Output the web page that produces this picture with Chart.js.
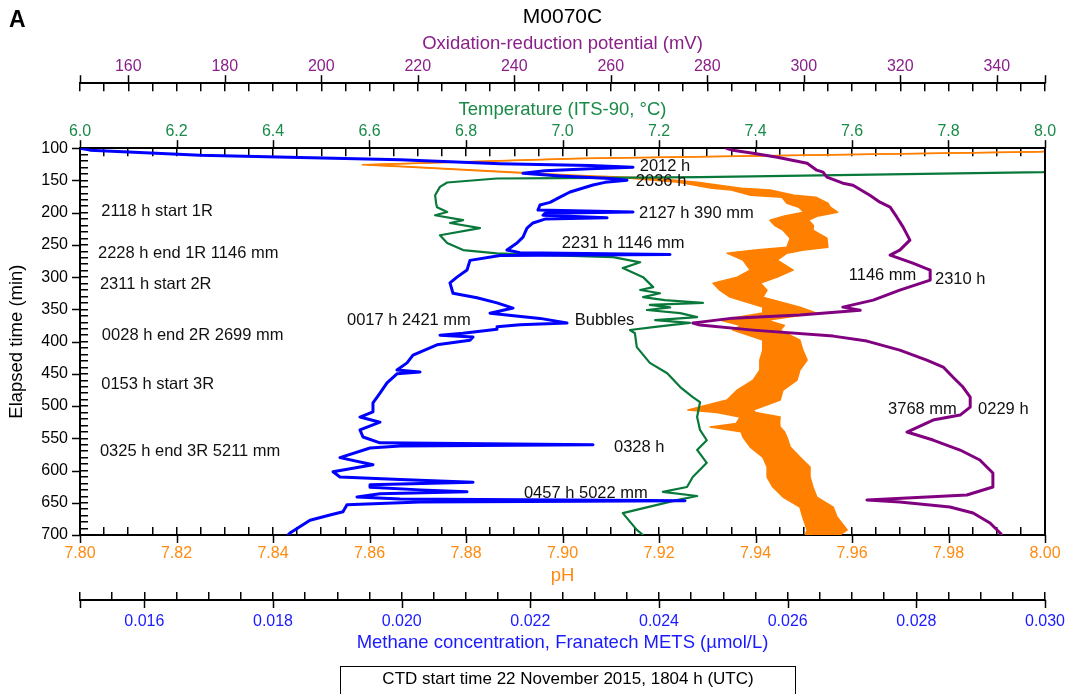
<!DOCTYPE html>
<html><head><meta charset="utf-8">
<script src="https://cdn.jsdelivr.net/npm/chart.js@4/dist/chart.umd.min.js"></script>
<style>html,body{margin:0;padding:0;background:#fff;}#wrap{width:1070px;height:694px;}</style>
</head><body><div id="wrap"><canvas id="c" width="1070" height="694"></canvas></div>
<script>
// ---------- tick labels ----------
const timeTicks = [100,150,200,250,300,350,400,450,500,550,600,650,700];
const orpTicks  = [160,180,200,220,240,260,280,300,320,340];
const tempTicks = [6.0,6.2,6.4,6.6,6.8,7.0,7.2,7.4,7.6,7.8,8.0];
const phTicks   = [7.80,7.82,7.84,7.86,7.88,7.90,7.92,7.94,7.96,7.98,8.00];
const ch4Ticks  = [0.016,0.018,0.020,0.022,0.024,0.026,0.028,0.030];

// ---------- methane (µmol/L) vs elapsed time (min) ----------
const ch4Time  = [100,103,111,118,124,127,129.5,132,135,139,143,147,149.6,153,157,168,176,184,188,196,199,201,204,208,210,216,224,238,247,258,262,264.8,266.5,274,289,300,309,325,332,340,348,356,364,371,374,377,381,387,390,393,398,405,421,433,444,447,450,464,480,495,509,517,525,537,548,557,560,562,565,580,591,602,610,614,618,622,626,630,633,636,641,644,647,649,653,664,669,677,697,700];
const ch4Value = [0.015000,0.015155,0.016865,0.019974,0.021528,0.022927,0.023596,0.022927,0.022228,0.021886,0.022461,0.023238,0.023503,0.023161,0.022974,0.022617,0.022461,0.022306,0.022150,0.022119,0.023596,0.022228,0.022197,0.023192,0.022228,0.022041,0.021948,0.021886,0.021793,0.021637,0.021839,0.024171,0.021528,0.021062,0.021016,0.020860,0.020751,0.020798,0.021171,0.021482,0.021731,0.021373,0.022150,0.022570,0.021839,0.021482,0.021482,0.020953,0.020596,0.021109,0.021062,0.020549,0.020176,0.020083,0.019927,0.020285,0.019927,0.019772,0.019663,0.019554,0.019554,0.019352,0.019663,0.019352,0.019399,0.019663,0.022974,0.019974,0.019508,0.019041,0.019554,0.018933,0.019041,0.019974,0.021109,0.019508,0.019508,0.020285,0.021016,0.019663,0.019306,0.019974,0.024404,0.020285,0.019150,0.019088,0.018886,0.018575,0.018264,0.018233];

// ---------- temperature (°C) ----------
const tempTime  = [133,137.2,145,146.5,147,153.2,160,172.9,185.3,191.5,199,204,211.6,216,224,235,247,258,263,266,269,277,286,300,315.5,320,325,331,335.7,340,343,347,351,355.8,362,366.7,371,377.5,382,387,408.5,433,449,470.5,486,494,517,537,553,568,588,610,625.5,633,639.5,646,666,692,700];
const tempValue = [8.05,7.996,7.285,6.995,6.864,6.761,6.746,6.736,6.738,6.740,6.761,6.736,6.794,6.767,6.829,6.746,6.761,6.794,6.864,6.968,7.105,7.161,7.125,7.167,7.188,7.161,7.202,7.167,7.212,7.291,7.181,7.223,7.175,7.244,7.279,7.192,7.264,7.188,7.140,7.150,7.154,7.181,7.217,7.244,7.270,7.285,7.279,7.285,7.299,7.279,7.299,7.270,7.258,7.208,7.279,7.237,7.125,7.154,7.167];

// ---------- pH (noisy band: low / high edge) ----------
const phTime = [100,104,105.7,116,125.6,129,141.9,146.5,152.7,162,165,172.9,176,185.3,191.5,199.2,205,211.6,220,227.1,239.5,253.5,258,262.8,273.6,289.1,300,309.3,320.2,331,346.5,355.8,366.7,375,382.2,397.7,413.2,428.7,444.2,459.7,475.2,490.7,506.2,510,517,527,532.6,540,548.1,563.6,579.1,594.6,610.1,625.6,641.1,656.6,672.1,692.2,700];
const phLow  = [8.020,8.001,7.9985,7.9025,7.8585,7.8680,7.9000,7.9140,7.9240,7.9310,7.9350,7.9390,7.9455,7.9465,7.9490,7.9500,7.9460,7.9430,7.9440,7.9457,7.9472,7.9465,7.9400,7.9341,7.9374,7.9389,7.9362,7.9312,7.9326,7.9347,7.9415,7.9415,7.9326,7.9370,7.9353,7.9415,7.9415,7.9409,7.9409,7.9395,7.9362,7.9341,7.9260,7.9320,7.9368,7.9360,7.9306,7.9370,7.9374,7.9389,7.9415,7.9424,7.9424,7.9436,7.9457,7.9492,7.9498,7.9507,7.9503];
const phHigh = [8.030,8.006,8.0000,7.9040,7.8600,7.8695,7.9025,7.9190,7.9280,7.9370,7.9430,7.9480,7.9525,7.9550,7.9555,7.9570,7.9530,7.9510,7.9520,7.9519,7.9548,7.9550,7.9500,7.9465,7.9445,7.9478,7.9445,7.9410,7.9424,7.9415,7.9492,7.9527,7.9424,7.9460,7.9451,7.9492,7.9498,7.9507,7.9492,7.9486,7.9457,7.9451,7.9395,7.9400,7.9451,7.9450,7.9451,7.9460,7.9465,7.9472,7.9492,7.9513,7.9513,7.9519,7.9527,7.9561,7.9569,7.9590,7.9575];

// ---------- oxidation-reduction potential (mV) ----------
const orpTime  = [100,103.1,107.8,114,123.3,134.1,137.2,145,154.3,157.4,172.9,183.7,191.5,207,222.5,242.6,258.1,265.9,278.3,289.1,304.6,320.2,335.7,346.5,351.2,358.9,363.6,369.8,371.3,374.4,382.2,391.5,399.2,413.2,428.7,439.5,455,470.5,486,501.6,514,521.7,540.3,552.7,568.2,583.7,603.9,625.6,638,642.6,645.7,648.8,656.6,665.9,681.4,696.9,700];
const orpValue = [284.0,285.3,289.5,294.5,300.7,302.7,304.0,304.8,308.1,310.2,313.7,315.8,317.9,319.3,320.6,322.0,319.9,317.9,322.6,326.2,326.2,319.9,314.4,308.1,311.7,299.2,285.3,278.5,277.0,278.5,289.5,306.1,313.1,319.9,325.5,328.9,330.9,333.0,334.5,334.5,332.4,326.8,321.4,326.8,332.4,336.5,339.2,339.2,333.8,321.4,313.1,319.9,330.3,335.1,338.6,340.7,341.0];

// ---------- annotations (anchored on methane axis / time axis) ----------
const noteText = ['2012 h','2036 h','2127 h 390 mm','2231 h 1146 mm','0017 h 2421 mm','Bubbles','0328 h','0457 h 5022 mm','1146 mm','2310 h','3768 mm','0229 h','2118 h start 1R','2228 h end 1R 1146 mm','2311 h start 2R','0028 h end 2R 2699 mm','0153 h start 3R','0325 h end 3R 5211 mm'];
const noteCH4  = [0.02370,0.02364,0.02369,0.02249,0.01915,0.02269,0.02330,0.02190,0.02695,0.02829,0.02756,0.02896,0.01533,0.01528,0.01531,0.01534,0.01533,0.01531];
const noteTime = [127.9,151.2,200.8,247.3,366.7,366.7,563.6,634.9,296.9,303.1,504.7,504.7,197.7,262.8,310.9,389.9,465.9,569.8];

const FONT = '"Liberation Sans", Arial, Helvetica, sans-serif';
Chart.defaults.font.family = FONT;

const C_ORP = '#800080', C_ORP_T = '#8a1f8a';
const C_TMP = '#08793a', C_TMP_T = '#1a8a48';
const C_PH  = '#ff8000', C_PH_T = '#ff8a10';
const C_CH4 = '#0000ff', C_CH4_T = '#1a1aff';

const pts = (ts, vs) => ts.map((t, i) => ({x: vs[i], y: t}));

function tickCb(labels, digits, tol) {
  return function(v) {
    for (const l of labels) if (Math.abs(v - l) < tol) return l.toFixed(digits);
    return '';
  };
}
function xScale(o) {
  return {
    type: 'linear', position: o.pos, weight: o.weight, min: o.min, max: o.max,
    ticks: { stepSize: o.step, autoSkip: false, maxRotation: 0, minRotation: 0, color: o.color,
             font: { size: 16 }, padding: o.labelPad, callback: tickCb(o.labels, o.digits, o.step / 100) },
    grid: { drawOnChartArea: false, drawTicks: true, tickLength: -8, color: '#000', lineWidth: 1.5 },
    border: { display: true, color: '#000', width: 2 },
    title: { display: true, text: o.title, color: o.color, font: { size: 18.5 }, padding: o.titlePad },
    afterFit(s) { s.height = o.height; s.paddingLeft = 0; s.paddingRight = 0; }
  };
}

const decor = {
  id: 'decor',
  afterDatasetsDraw(chart) {
    const ctx = chart.ctx, sx = chart.scales.xCH4, sy = chart.scales.y;
    ctx.save();
    ctx.fillStyle = '#111';
    ctx.font = '16.5px ' + FONT;
    ctx.textAlign = 'left';
    ctx.textBaseline = 'middle';
    noteText.forEach((t, i) => ctx.fillText(t, sx.getPixelForValue(noteCH4[i]), sy.getPixelForValue(noteTime[i])));
    ctx.restore();
  },
  afterDraw(chart) {
    const ctx = chart.ctx, ca = chart.chartArea;
    ctx.save();
    ctx.strokeStyle = '#000';
    ctx.lineWidth = 2;
    ctx.beginPath(); ctx.moveTo(ca.right, ca.top - 1); ctx.lineTo(ca.right, ca.bottom + 1); ctx.stroke();
    ctx.lineWidth = 1.5;
    for (const id of ['xORP', 'xT', 'xPH', 'xCH4', 'y']) {
      const s = chart.scales[id];
      const n = s.ticks.length;
      s.ticks.forEach((tk, i) => {
        if (tk.label === '' && i !== 0 && i !== n - 1) return;
        const p = Math.round(s.getPixelForTick(i)) + 0.5;
        ctx.beginPath();
        if (s.position === 'top') { ctx.moveTo(p, s.bottom); ctx.lineTo(p, s.bottom - 8); }
        else if (s.position === 'bottom') { ctx.moveTo(p, s.top); ctx.lineTo(p, s.top + 8); }
        else { ctx.moveTo(s.right, p); ctx.lineTo(s.right - 8, p); }
        ctx.stroke();
      });
    }
    // panel letter
    ctx.fillStyle = '#000';
    ctx.font = 'bold 23px ' + FONT;
    ctx.textAlign = 'left'; ctx.textBaseline = 'middle';
    ctx.fillText('A', 9, 21);
    // footer box
    ctx.lineWidth = 1;
    ctx.strokeRect(340.5, 666.5, 455, 40);
    ctx.font = '17px ' + FONT;
    ctx.textAlign = 'center';
    ctx.fillText('CTD start time 22 November 2015, 1804 h (UTC)', 568, 679);
    ctx.restore();
  }
};

const lineDs = (label, data, xId, color, width, extra) => Object.assign({
  label, data, xAxisID: xId, yAxisID: 'y', borderColor: color, backgroundColor: color,
  borderWidth: width, pointRadius: 0, tension: 0, fill: false, borderJoinStyle: 'round', borderCapStyle: 'round'
}, extra || {});

new Chart(document.getElementById('c'), {
  type: 'line',
  data: {
    datasets: [
      lineDs('Methane', pts(ch4Time, ch4Value), 'xCH4', C_CH4, 3),
      lineDs('ORP', pts(orpTime, orpValue), 'xORP', C_ORP, 3),
      lineDs('Temperature', pts(tempTime, tempValue), 'xT', C_TMP, 2.2),
      lineDs('pH high', pts(phTime, phHigh), 'xPH', C_PH, 1.5, { fill: '+1' }),
      lineDs('pH low', pts(phTime, phLow), 'xPH', C_PH, 1.5)
    ]
  },
  options: {
    indexAxis: 'y',
    responsive: false,
    animation: false,
    devicePixelRatio: 1,
    layout: { padding: { left: 0, right: 25, top: 0, bottom: 32 } },
    plugins: {
      legend: { display: false },
      tooltip: { enabled: false },
      title: { display: true, fullSize: false, text: 'M0070C', color: '#000', font: { size: 21, weight: 'normal' }, padding: { top: 5, bottom: 3 } }
    },
    scales: {
      xORP: xScale({ pos: 'top', weight: 2, min: 150, max: 350, step: 5, labels: orpTicks, digits: 0, color: C_ORP_T,
                     title: 'Oxidation-reduction potential (mV)', height: 50, labelPad: 15, titlePad: { top: 0, bottom: 0 } }),
      xT: xScale({ pos: 'top', weight: 1, min: 6, max: 8, step: 0.05, labels: tempTicks, digits: 1, color: C_TMP_T,
                   title: 'Temperature (ITS-90, °C)', height: 65, labelPad: 15, titlePad: { top: 15.7, bottom: 0 } }),
      xPH: xScale({ pos: 'bottom', weight: 1, min: 7.8, max: 8.0, step: 0.005, labels: phTicks, digits: 2, color: C_PH_T,
                    title: 'pH', height: 65, labelPad: 17, titlePad: { top: 0, bottom: 13 } }),
      xCH4: xScale({ pos: 'bottom', weight: 2, min: 0.015, max: 0.030, step: 0.0005, labels: ch4Ticks, digits: 3, color: C_CH4_T,
                     title: 'Methane concentration, Franatech METS (µmol/L)', height: 62, labelPad: 20, titlePad: { top: 0, bottom: 8 } }),
      y: {
        type: 'linear', position: 'left', reverse: true, min: 100, max: 700, weight: 0,
        ticks: { stepSize: 10, autoSkip: false, color: '#000', font: { size: 16 }, padding: 20, callback: tickCb(timeTicks, 0, 0.1) },
        grid: { drawOnChartArea: false, drawTicks: true, tickLength: -8, color: '#000', lineWidth: 1.5 },
        border: { display: true, color: '#000', width: 2 },
        title: { display: true, text: 'Elapsed time (min)', color: '#000', font: { size: 18.5 }, padding: { top: 6, bottom: 0 } },
        afterFit(s) { s.width = 80; s.paddingTop = 0; s.paddingBottom = 0; }
      }
    }
  },
  plugins: [decor]
});
</script></body></html>
